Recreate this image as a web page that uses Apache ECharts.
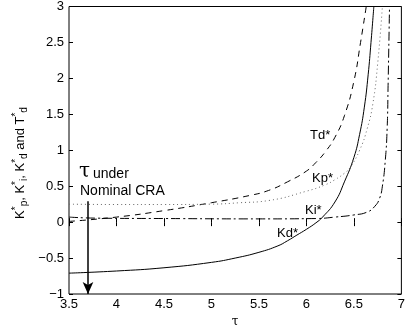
<!DOCTYPE html>
<html>
<head>
<meta charset="utf-8">
<script src="https://cdn.jsdelivr.net/npm/echarts@6/dist/echarts.min.js"></script>
<style>
  html, body { margin: 0; padding: 0; background: #fff; }
  #chart { width: 408px; height: 333px; }
</style>
</head>
<body>
<div id="chart"></div>
<script>
// values
const kdTau = [3.5, 4.0, 4.5, 5.0, 5.25, 5.5, 5.7, 5.8, 5.9, 6.0, 6.1, 6.17, 6.3, 6.4, 6.5, 6.56, 6.61, 6.65, 6.68, 6.71]
const kdVal = [-0.71, -0.68, -0.635, -0.56, -0.5, -0.42, -0.33, -0.26, -0.18, -0.1, -0.01, 0.07, 0.28, 0.56, 0.9, 1.22, 1.6, 2.05, 2.5, 3.0]

const tdTau = [3.5, 4.0, 4.5, 5.0, 5.4, 5.6, 5.8, 6.0, 6.1, 6.2, 6.3, 6.4, 6.5, 6.57, 6.63]
const tdVal = [0.01, 0.07, 0.16, 0.27, 0.37, 0.44, 0.56, 0.71, 0.83, 0.98, 1.18, 1.48, 1.96, 2.5, 3.0]

const kpTau = [3.5, 4.0, 4.5, 5.0, 5.3, 5.6, 6.0, 6.2, 6.3, 6.4, 6.46, 6.56, 6.64, 6.7, 6.75, 6.8]
const kpVal = [0.25, 0.245, 0.245, 0.25, 0.27, 0.3, 0.43, 0.52, 0.59, 0.68, 0.76, 1.0, 1.3, 1.65, 2.2, 3.0]

const kiTau = [3.5, 3.8, 4.5, 5.5, 6.1, 6.3, 6.5, 6.64, 6.72, 6.77, 6.8, 6.83, 6.85, 6.86, 6.875]
const kiVal = [0.07, 0.055, 0.05, 0.045, 0.05, 0.07, 0.1, 0.14, 0.22, 0.33, 0.5, 0.85, 1.3, 1.9, 3.0]

const xTicks = { min: 3.5, max: 7, step: 0.5 }
const yTicks = { min: -1, max: 3, step: 0.5 }
const arrowTau = 3.7
const arrowTop = 0.29

const pairs = (xs, ys) => xs.map((x, i) => [x, ys[i]])
const minus = v => String(v).replace('-', '\u2212')

const chart = echarts.init(document.getElementById('chart'))
const font = 'Liberation Sans, Arial, sans-serif'
const tickStyle = { inside: true, length: 4, lineStyle: { color: '#000' } }

const lineSeries = (name, data, type, color) => ({
  name,
  type: 'line',
  data,
  symbol: 'none',
  smooth: 0.5,
  clip: true,
  lineStyle: { color, width: 1, type },
})

const label = (text, left, top) => ({
  type: 'text', left, top, style: { text, font: '13px ' + font, fill: '#000' },
})

chart.setOption({
  animation: false,
  backgroundColor: '#fff',
  grid: { left: 69, right: 3, top: 3, bottom: 35, show: true, borderColor: '#000', borderWidth: 1 },
  xAxis: [
    {
      type: 'value',
      min: xTicks.min,
      max: xTicks.max,
      interval: xTicks.step,
      name: '\u03c4',
      nameLocation: 'middle',
      nameGap: 22,
      nameTextStyle: { fontFamily: 'DejaVu Serif, serif', fontSize: 12, color: '#000' },
      axisLine: { show: false },
      axisTick: tickStyle,
      axisLabel: { color: '#000', fontSize: 13, fontFamily: font, margin: 4 },
      splitLine: { show: false },
    },
    {
      type: 'value',
      position: 'top',
      min: xTicks.min,
      max: xTicks.max,
      interval: xTicks.step,
      axisLine: { show: false },
      axisTick: tickStyle,
      axisLabel: { show: false },
      splitLine: { show: false },
    },
  ],
  yAxis: [
    {
      type: 'value',
      min: yTicks.min,
      max: yTicks.max,
      interval: yTicks.step,
      axisLine: { show: false },
      axisTick: tickStyle,
      axisLabel: { color: '#000', fontSize: 13, fontFamily: font, margin: 5, formatter: minus },
      splitLine: { show: false },
    },
    {
      type: 'value',
      position: 'right',
      min: yTicks.min,
      max: yTicks.max,
      interval: yTicks.step,
      axisLine: { show: false },
      axisTick: tickStyle,
      axisLabel: { show: false },
      splitLine: { show: false },
    },
  ],
  series: [
    lineSeries('Td*', pairs(tdTau, tdVal), [6, 5], '#000'),
    lineSeries('Kp*', pairs(kpTau, kpVal), [1, 3], '#666'),
    lineSeries('Ki*', pairs(kiTau, kiVal), [9, 3, 2, 3], '#000'),
    {
      ...lineSeries('Kd*', pairs(kdTau, kdVal), 'solid', '#000'),
      markLine: {
        silent: true,
        symbol: ['none', 'arrow'],
        symbolSize: [8, 12],
        label: { show: false },
        lineStyle: { color: '#000', width: 1.5, type: 'solid' },
        data: [[{ coord: [arrowTau, arrowTop] }, { coord: [arrowTau, yTicks.min] }]],
      },
    },
  ],
  graphic: [
    {
      type: 'text',
      x: 20,
      y: 163,
      rotation: Math.PI / 2,
      style: {
        text: 'K{sup|*}{sub|p}, K{sup|*}{sub|i}, K{sup|*}{sub|d} and T{sup|*}{sub|d}',
        font: '13px ' + font,
        fill: '#000',
        align: 'center',
        verticalAlign: 'middle',
        rich: {
          sup: { font: '10px ' + font, fill: '#000', padding: [0, 0, 8, 0] },
          sub: { font: '10px ' + font, fill: '#000', padding: [8, 0, 0, 0] },
        },
      },
    },
    label('Td*', 310, 129),
    label('Kp*', 312, 172),
    label('Ki*', 305, 204),
    label('Kd*', 277, 227),
    { type: 'text', left: 79, top: 162, style: { text: '\u03c4', font: '20px DejaVu Serif, serif', fill: '#000' } },
    { type: 'text', left: 93, top: 167, style: { text: 'under', font: '14px ' + font, fill: '#000' } },
    { type: 'text', left: 80, top: 184, style: { text: 'Nominal CRA', font: '14px ' + font, fill: '#000' } },
  ],
})
</script>
</body>
</html>
